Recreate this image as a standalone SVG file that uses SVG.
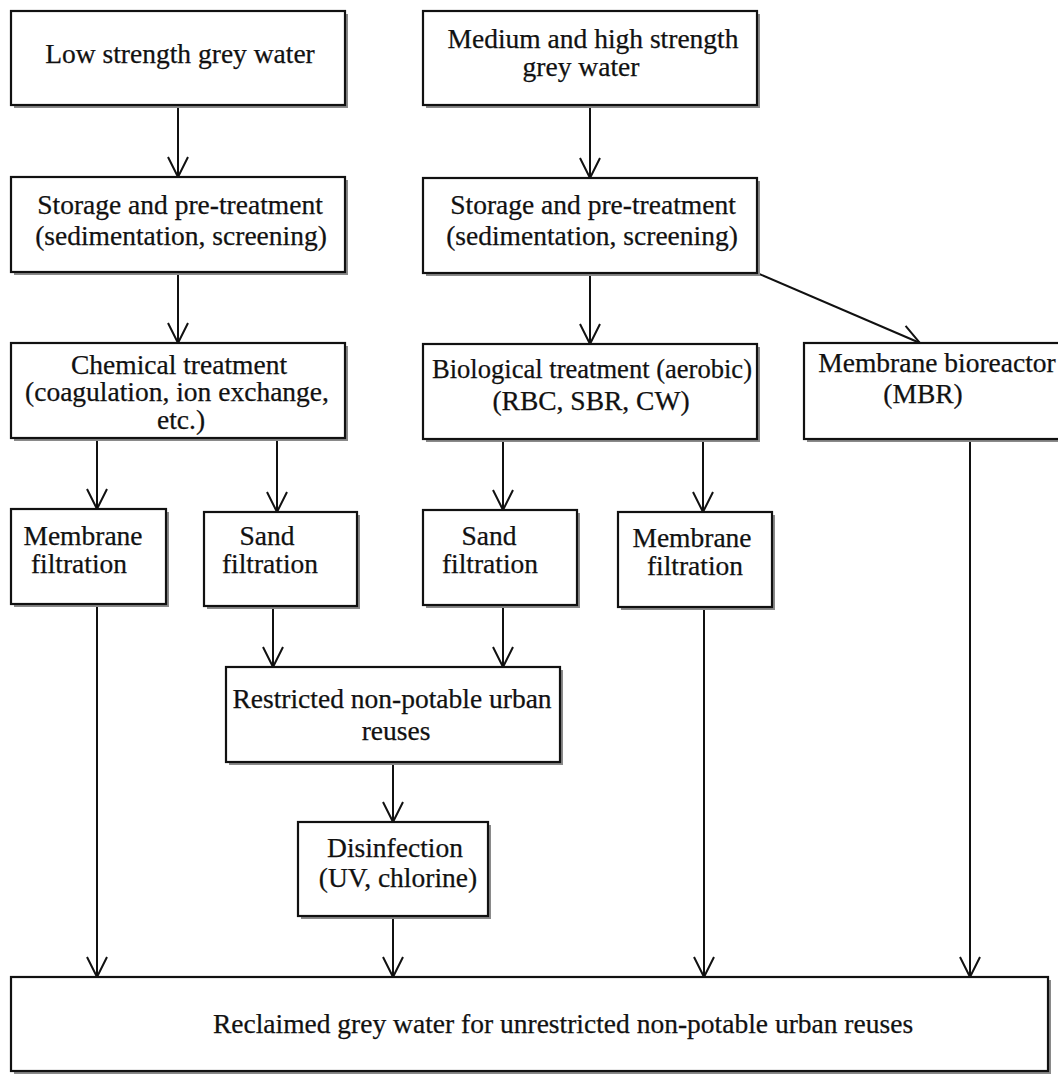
<svg xmlns="http://www.w3.org/2000/svg" width="1058" height="1074" viewBox="0 0 1058 1074">
<defs>
<style>
.sh{fill:#8a8a8a}
.bx{fill:#fff;stroke:#111;stroke-width:2.2}
.t{font-family:"Liberation Serif","Times New Roman",serif;font-size:27.5px;fill:#111;stroke:#111;stroke-width:0.25;text-anchor:middle}
.c{stroke:#111;stroke-width:2;fill:none}
</style>
<marker id="arr" viewBox="0 0 24 24" refX="21" refY="11" markerWidth="24" markerHeight="24" markerUnits="userSpaceOnUse" orient="auto">
<path d="M1,1 L21,11 L1,21" fill="none" stroke="#111" stroke-width="2"/>
</marker>
</defs>
<rect width="1058" height="1074" fill="#fff"/>

<g id="connectors">
<line class="c" x1="178" y1="105" x2="178" y2="177" marker-end="url(#arr)"/>
<line class="c" x1="590" y1="105" x2="590" y2="178" marker-end="url(#arr)"/>
<line class="c" x1="178" y1="272" x2="178" y2="343" marker-end="url(#arr)"/>
<line class="c" x1="590" y1="273" x2="590" y2="344" marker-end="url(#arr)"/>
<line class="c" x1="757" y1="273" x2="920" y2="343" marker-end="url(#arr)"/>
<line class="c" x1="97" y1="438" x2="97" y2="509" marker-end="url(#arr)"/>
<line class="c" x1="277" y1="438" x2="277" y2="512" marker-end="url(#arr)"/>
<line class="c" x1="503" y1="439" x2="503" y2="510" marker-end="url(#arr)"/>
<line class="c" x1="703" y1="439" x2="703" y2="512" marker-end="url(#arr)"/>
<line class="c" x1="273" y1="606" x2="273" y2="667" marker-end="url(#arr)"/>
<line class="c" x1="503" y1="605" x2="503" y2="667" marker-end="url(#arr)"/>
<line class="c" x1="393" y1="762" x2="393" y2="822" marker-end="url(#arr)"/>
<line class="c" x1="393" y1="916" x2="393" y2="977" marker-end="url(#arr)"/>
<line class="c" x1="97" y1="604" x2="97" y2="977" marker-end="url(#arr)"/>
<line class="c" x1="704" y1="607" x2="704" y2="977" marker-end="url(#arr)"/>
<line class="c" x1="970" y1="439" x2="970" y2="977" marker-end="url(#arr)"/>
</g>

<g id="low">
<rect class="sh" x="14" y="14" width="334" height="94"/>
<rect class="bx" x="11" y="11" width="334" height="94"/>
<text class="t" x="180" y="63">Low strength grey water</text>
</g>
<g id="medium">
<rect class="sh" x="426" y="14" width="334" height="94"/>
<rect class="bx" x="423" y="11" width="334" height="94"/>
<text class="t" x="593" y="48">Medium and high strength</text>
<text class="t" x="581" y="76">grey water</text>
</g>
<g id="storage-left">
<rect class="sh" x="14" y="180" width="334" height="95"/>
<rect class="bx" x="11" y="177" width="334" height="95"/>
<text class="t" x="180" y="214">Storage and pre-treatment</text>
<text class="t" x="181" y="245">(sedimentation, screening)</text>
</g>
<g id="storage-right">
<rect class="sh" x="426" y="181" width="334" height="95"/>
<rect class="bx" x="423" y="178" width="334" height="95"/>
<text class="t" x="593" y="214">Storage and pre-treatment</text>
<text class="t" x="592" y="245">(sedimentation, screening)</text>
</g>
<g id="chemical">
<rect class="sh" x="14" y="346" width="334" height="95"/>
<rect class="bx" x="11" y="343" width="334" height="95"/>
<text class="t" x="179" y="374">Chemical treatment</text>
<text class="t" x="177" y="401">(coagulation, ion exchange,</text>
<text class="t" x="181" y="429">etc.)</text>
</g>
<g id="biological">
<rect class="sh" x="426" y="347" width="334" height="95"/>
<rect class="bx" x="423" y="344" width="334" height="95"/>
<text class="t" x="592" y="378" textLength="320" lengthAdjust="spacingAndGlyphs">Biological treatment (aerobic)</text>
<text class="t" x="591" y="410">(RBC, SBR, CW)</text>
</g>
<g id="mbr">
<rect class="sh" x="807" y="346" width="270" height="96"/>
<rect class="bx" x="804" y="343" width="270" height="96"/>
<text class="t" x="937" y="372">Membrane bioreactor</text>
<text class="t" x="923" y="403">(MBR)</text>
</g>
<g id="membrane-left">
<rect class="sh" x="14" y="512" width="155" height="95"/>
<rect class="bx" x="11" y="509" width="155" height="95"/>
<text class="t" x="83" y="545">Membrane</text>
<text class="t" x="79" y="573">filtration</text>
</g>
<g id="sand-left">
<rect class="sh" x="207" y="515" width="153" height="94"/>
<rect class="bx" x="204" y="512" width="153" height="94"/>
<text class="t" x="267" y="545">Sand</text>
<text class="t" x="270" y="573">filtration</text>
</g>
<g id="sand-right">
<rect class="sh" x="426" y="513" width="154" height="95"/>
<rect class="bx" x="423" y="510" width="154" height="95"/>
<text class="t" x="489" y="545">Sand</text>
<text class="t" x="490" y="573">filtration</text>
</g>
<g id="membrane-right">
<rect class="sh" x="621" y="515" width="154" height="95"/>
<rect class="bx" x="618" y="512" width="154" height="95"/>
<text class="t" x="692" y="547">Membrane</text>
<text class="t" x="695" y="575">filtration</text>
</g>
<g id="restricted">
<rect class="sh" x="229" y="670" width="334" height="95"/>
<rect class="bx" x="226" y="667" width="334" height="95"/>
<text class="t" x="392" y="708">Restricted non-potable urban</text>
<text class="t" x="396" y="740">reuses</text>
</g>
<g id="disinfection">
<rect class="sh" x="301" y="825" width="190" height="94"/>
<rect class="bx" x="298" y="822" width="190" height="94"/>
<text class="t" x="395" y="857">Disinfection</text>
<text class="t" x="398" y="887">(UV, chlorine)</text>
</g>
<g id="reclaimed">
<rect class="sh" x="14" y="980" width="1037" height="94"/>
<rect class="bx" x="11" y="977" width="1037" height="94"/>
<text class="t" x="563" y="1033">Reclaimed grey water for unrestricted non-potable urban reuses</text>
</g>
</svg>
